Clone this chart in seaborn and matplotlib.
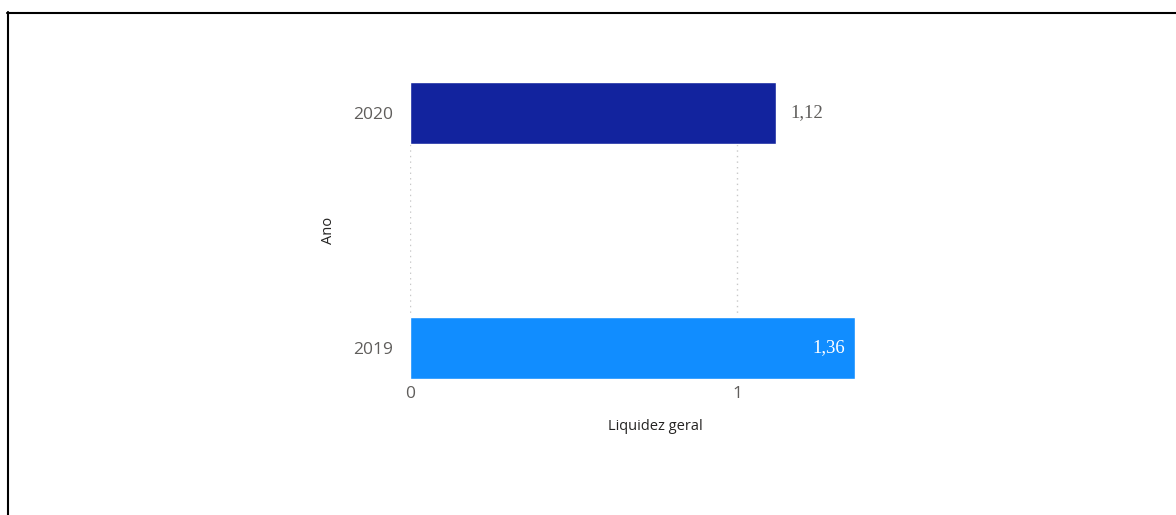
import matplotlib
matplotlib.use("Agg")
import matplotlib.pyplot as plt
import seaborn as sns
import pandas as pd
from matplotlib.lines import Line2D

anos = ["2020", "2019"]
liquidez = [1.12, 1.36]
rotulos = ["1,12", "1,36"]
cores = ["#12239E", "#118DFF"]
xticks = [0, 1]

df = pd.DataFrame({"Ano": anos, "Liquidez geral": liquidez})

sns.set_theme(style="white")
plt.rcParams["font.family"] = ["Open Sans", "DejaVu Sans"]

W, H = 1176, 515
fig = plt.figure(figsize=(W / 100, H / 100), dpi=100)
ax = fig.add_axes([410 / W, (H - 379) / H, 450 / W, 297 / H])

sns.barplot(data=df, y="Ano", x="Liquidez geral", hue="Ano", palette=cores,
            order=anos, hue_order=anos, width=0.264, legend=False, ax=ax,
            orient="h", saturation=1)

ax.set_xlim(0, 450 / 327)
ax.set_ylim(1 + 0.132, -0.132)
for s in ax.spines.values():
    s.set_visible(False)
ax.set_xticks(xticks)
ax.set_xticklabels([str(t) for t in xticks])
ax.tick_params(axis="both", length=0, labelsize=12.5, labelcolor="#605E5C")
ax.tick_params(axis="x", pad=5)
ax.tick_params(axis="y", pad=12)
ax.grid(False)
for t in xticks:
    ax.axvline(t, color="#C8C8C8", linestyle=(0, (1, 3)), linewidth=1, zorder=0)

ax.set_xlabel("Liquidez geral", fontsize=10.5, color="#252423", fontweight="medium")
ax.xaxis.set_label_coords((655 - 410) / 450, -40 / 297)
ax.set_ylabel("Ano", fontsize=10.5, color="#252423", fontweight="medium")
ax.yaxis.set_label_coords((336 - 410) / 450, 0.5)

# data labels
for i, (v, lab) in enumerate(zip(liquidez, rotulos)):
    if i == 0:
        ax.annotate(lab, (v, i), xytext=(10, 0), textcoords="offset points",
                    ha="left", va="center", fontsize=13.5, color="#605E5C",
                    family=["Liberation Serif", "DejaVu Serif"])
    else:
        ax.annotate(lab, (v, i), xytext=(-7, 0), textcoords="offset points",
                    ha="right", va="center", fontsize=13.5, color="white",
                    family=["Liberation Serif", "DejaVu Serif"])

# outer frame (left and top)
fig.add_artist(Line2D([7.5 / W, 7.5 / W], [0, 1 - 12 / H], transform=fig.transFigure,
                      color="black", linewidth=1.5))
fig.add_artist(Line2D([7 / W, 1], [1 - 12.5 / H, 1 - 12.5 / H], transform=fig.transFigure,
                      color="black", linewidth=1.5))

fig.savefig("out.png", dpi=100)
